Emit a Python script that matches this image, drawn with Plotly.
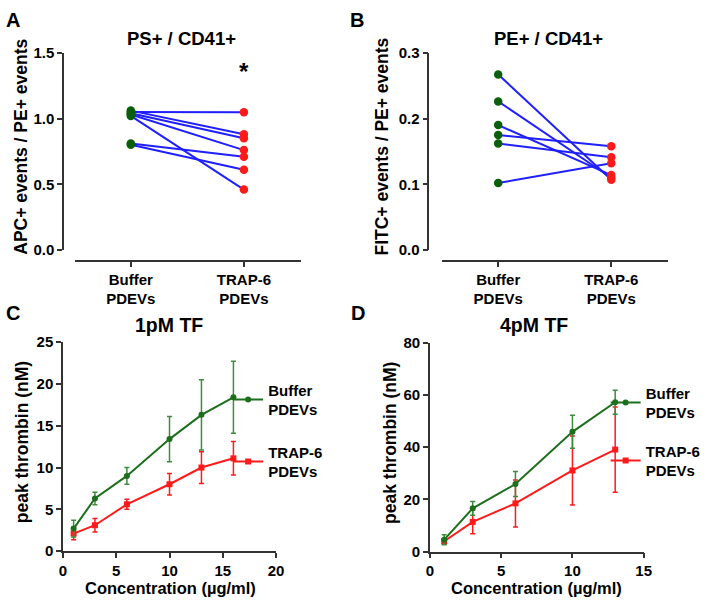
import plotly.graph_objects as go

# ---------------- data ----------------
groups = ["Buffer<br>PDEVs", "TRAP-6<br>PDEVs"]

# Panel A: PS+ / CD41+ (paired)
a_buffer = [1.05, 1.06, 1.04, 1.03, 1.02, 0.81, 0.80]
a_trap = [1.047, 0.88, 0.85, 0.76, 0.46, 0.71, 0.61]

# Panel B: PE+ / CD41+ (paired)
b_buffer = [0.267, 0.226, 0.190, 0.175, 0.162, 0.102]
b_trap = [0.107, 0.110, 0.114, 0.158, 0.141, 0.132]

# Panel C: 1pM TF
c_conc = [1, 3, 6, 10, 13, 16]
c_buf_mean = [2.7, 6.3, 9.0, 13.4, 16.3, 18.4]
c_buf_err = [1.0, 0.75, 1.0, 2.7, 4.2, 4.3]
c_trap_mean = [2.1, 3.1, 5.6, 8.0, 10.0, 11.1]
c_trap_err = [0.75, 0.8, 0.6, 1.3, 1.9, 2.0]

# Panel D: 4pM TF
d_conc = [1, 3, 6, 10, 13]
d_buf_mean = [4.6, 16.6, 25.9, 45.9, 57.2]
d_buf_err = [1.9, 2.6, 4.8, 6.3, 4.6]
d_trap_mean = [4.0, 11.4, 18.5, 31.1, 39.1]
d_trap_err = [1.0, 4.5, 9.0, 13.2, 16.3]

# ---------------- style ----------------
W, H = 709, 609
FONT = "Liberation Sans, Arial, sans-serif"
GREEN_DOT = "#0b5e0b"
GREEN_LINE = "#1c6f1c"
GREEN_ERR = "#3c8c3c"
RED = "#ff1a1a"
BLUE = "#1f1fff"
AX = "#333333"


def px(x):
    return x / W


def py(y):
    return 1 - y / H


fig = go.Figure()

# ---------- Panels A and B (paired dot plots) ----------
for buf, trap, xa, ya in [(a_buffer, a_trap, "x", "y"), (b_buffer, b_trap, "x2", "y2")]:
    for i, (b0, t0) in enumerate(zip(buf, trap)):
        fig.add_trace(go.Scatter(x=[0, 1], y=[b0, t0], mode="lines",
                                 line=dict(color=BLUE, width=2),
                                 xaxis=xa, yaxis=ya, showlegend=False,
                                 hoverinfo="skip"))
    fig.add_trace(go.Scatter(x=[0] * len(buf), y=buf, mode="markers",
                             marker=dict(color=GREEN_DOT, size=8.5),
                             xaxis=xa, yaxis=ya, showlegend=False, cliponaxis=False))
    fig.add_trace(go.Scatter(x=[1] * len(trap), y=trap, mode="markers",
                             marker=dict(color=RED, size=8.5),
                             xaxis=xa, yaxis=ya, showlegend=False, cliponaxis=False))

# ---------- Panels C and D (line plots with error bars) ----------
for conc, bm, be, tm, te, xa, ya, lg in [
    (c_conc, c_buf_mean, c_buf_err, c_trap_mean, c_trap_err, "x3", "y3", "legend"),
    (d_conc, d_buf_mean, d_buf_err, d_trap_mean, d_trap_err, "x4", "y4", "legend2"),
]:
    fig.add_trace(go.Scatter(x=conc, y=tm, mode="lines+markers", name="TRAP-6<br>PDEVs",
                             line=dict(color=RED, width=2),
                             marker=dict(symbol="square", size=6, color=RED),
                             error_y=dict(type="data", array=te, color=RED, thickness=1.5, width=2.5),
                             xaxis=xa, yaxis=ya, legend=lg, legendrank=2,
                             legendgroup=lg + "trap", cliponaxis=False))
    fig.add_trace(go.Scatter(x=conc, y=bm, mode="lines+markers", name="Buffer<br>PDEVs",
                             line=dict(color=GREEN_LINE, width=2),
                             marker=dict(symbol="circle", size=6, color=GREEN_LINE),
                             error_y=dict(type="data", array=be, color=GREEN_ERR, thickness=1.5, width=2.5),
                             xaxis=xa, yaxis=ya, legend=lg, legendrank=1,
                             legendgroup=lg + "buf", cliponaxis=False))

tickfont = dict(family=FONT, size=15, color="black", weight="bold")
common = dict(showgrid=False, zeroline=False, showline=True, linecolor=AX, linewidth=1.5,
              ticks="outside", ticklen=5, tickwidth=1.5, tickcolor=AX, tickfont=tickfont)

fig.update_layout(
    xaxis=dict(domain=[px(72), px(302)], anchor="free", position=py(259),
               range=[-0.4957, 1.504], tickvals=[0, 1], ticktext=groups, **common),
    yaxis=dict(domain=[py(248), py(45)], anchor="free", position=px(60),
               range=[0, 1.5], tickvals=[0, 0.5, 1.0, 1.5], tickformat=".1f", **common),
    xaxis2=dict(domain=[px(445.7), px(675)], anchor="free", position=py(259),
                range=[-0.4957, 1.498], tickvals=[0, 1], ticktext=groups, **common),
    yaxis2=dict(domain=[py(248), py(45)], anchor="free", position=px(431.7),
                range=[0, 0.3], tickvals=[0, 0.1, 0.2, 0.3], tickformat=".1f", **common),
    xaxis3=dict(domain=[px(60), px(276.7)], anchor="y3", range=[0, 20],
                tickvals=[0, 5, 10, 15, 20], **common),
    yaxis3=dict(domain=[py(557.7), py(342.7)], anchor="x3", range=[0, 25],
                tickvals=[0, 5, 10, 15, 20, 25], **common),
    xaxis4=dict(domain=[px(433.3), px(650.7)], anchor="y4", range=[0, 15],
                tickvals=[0, 5, 10, 15], **common),
    yaxis4=dict(domain=[py(558.3), py(343.3)], anchor="x4", range=[0, 80],
                tickvals=[0, 20, 40, 60, 80], **common),
)

legfont = dict(family=FONT, size=15, color="black", weight="bold")
fig.update_layout(
    legend=dict(x=px(228), y=py(375), xanchor="left", yanchor="top", font=legfont,
                bgcolor="rgba(0,0,0,0)", tracegroupgap=20, traceorder="grouped",
                itemclick=False),
    legend2=dict(x=px(612), y=py(378), xanchor="left", yanchor="top", font=legfont,
                 bgcolor="rgba(0,0,0,0)", tracegroupgap=16, traceorder="grouped",
                 itemclick=False),
)

ann = []


def text(x, y, s, size, angle=0):
    ann.append(dict(x=px(x), y=py(y), xref="paper", yref="paper", text=s, showarrow=False,
                    textangle=angle, xanchor="center", yanchor="middle",
                    font=dict(family=FONT, size=size, color="black", weight="bold")))


# panel letters
text(9, 11, "A", 20)
text(359, 11, "B", 20)
text(9, 313, "C", 20)
text(360, 313, "D", 20)
# titles
text(181, 30, "PS+ / CD41+", 18.5)
text(554, 30, "PE+ / CD41+", 18.5)
text(168, 325, "1pM TF", 19.5)
text(539, 325, "4pM TF", 19.5)
# axis titles
text(17, 142, "APC+ events / PE+ events", 17.5, -90)
text(385, 141, "FITC+ events / PE+ events", 17.5, -90)
text(18, 446, "peak thrombin (nM)", 17.5, -90)
text(392, 446, "peak thrombin (nM)", 17.5, -90)
text(169, 596, "Concentration (µg/ml)", 16.5)
text(542, 596, "Concentration (µg/ml)", 16.5)
# significance
ann.append(dict(x=1, y=1.36, xref="x", yref="y", text="*", showarrow=False,
                font=dict(family=FONT, size=24, color="black", weight="bold")))

fig.update_layout(annotations=ann, width=W, height=H,
                  margin=dict(l=0, r=0, t=0, b=0),
                  plot_bgcolor="white", paper_bgcolor="white")

fig.write_html("out.html", config={"displayModeBar": False},
               post_script="document.body.style.margin='0';document.body.style.overflow='hidden';")
